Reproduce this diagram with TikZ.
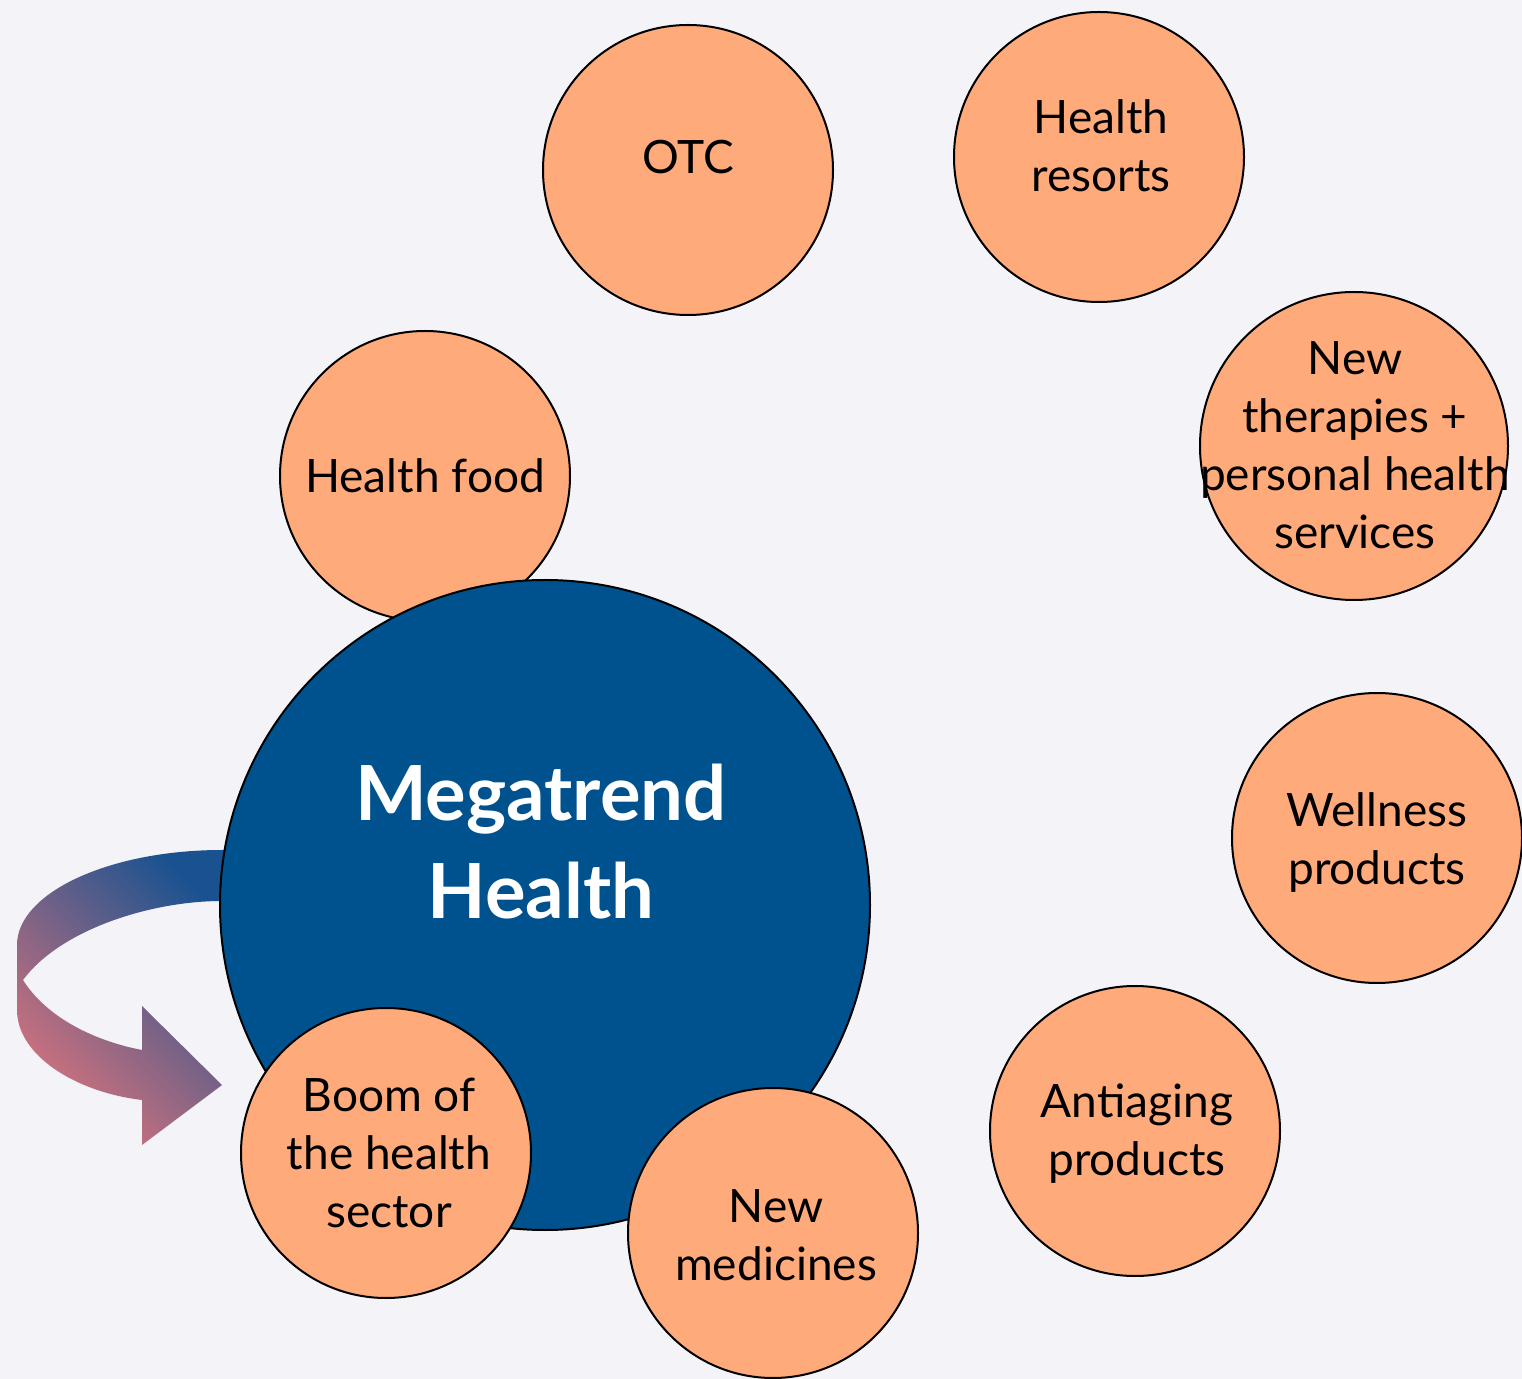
\documentclass[tikz,border=0pt]{standalone}
\usepackage{fontspec}
\setmainfont{Lato}
\definecolor{bgc}{HTML}{F3F3F8}
\definecolor{peach}{HTML}{FFAA7B}
\definecolor{megablue}{HTML}{00528F}
\definecolor{arrblue}{HTML}{1A5290}
\definecolor{arrpink}{HTML}{D8737C}
\tikzset{
  bubble/.style={circle, draw=black, line width=1pt, fill=peach, minimum size=145pt, inner sep=0pt},
  lbl/.style={align=center, font=\fontsize{23}{29}\selectfont, text=black, inner sep=0pt},
  mega/.style={circle, draw=black, line width=1pt, fill=megablue, minimum size=325pt, inner sep=0pt},
  megalbl/.style={align=center, font=\fontsize{38}{49}\selectfont\bfseries, text=white, inner sep=0pt}
}
\begin{document}
\begin{tikzpicture}[x=0.5pt,y=-0.5pt]
\useasboundingbox (0,0) rectangle (1522,1379);
\fill[bgc] (0,0) rectangle (1522,1379);
% Health food (under the big circle)
\node[bubble] (food) at (425,476) {};
\node[lbl] (foodt) at (425,476) {Health food};
% curved arrow
\shade[top color=arrblue, bottom color=arrpink, shading angle=-45]
  (232,850) -- (222,850) .. controls (109,850) and (17,893) .. (17,945)
  -- (17,1010) .. controls (17,1055) and (75,1092) .. (142,1100)
  -- (142,1145) -- (222,1085) -- (142,1006) -- (142,1050)
  .. controls (90,1040) and (45,1015) .. (23,980)
  .. controls (60,930) and (150,901) .. (222,901) -- (232,901) -- cycle;
% big circle
\node[mega] (mega) at (545,905) {};
\node[megalbl] (megat) at (541,842) {Megatrend\\Health};
% outer bubbles
\node[bubble] (otc) at (688,170) {};
\node[lbl] (otct) at (688,157) {OTC};
\node[bubble] (resorts) at (1099,157) {};
\node[lbl] (resortst) at (1101,146) {Health\\resorts};
\node[bubble, minimum size=154pt] (ther) at (1354,446) {};
\node[lbl] (thert) at (1355,445) {New\\therapies +\\personal health\\services};
\node[bubble] (well) at (1377,838) {};
\node[lbl] (wellt) at (1377,843) {Wellness\\products};
\node[bubble] (anti) at (1135,1131) {};
\node[lbl] (antit) at (1137,1134) {Antiaging\\products};
\node[bubble] (boom) at (386,1153) {};
\node[lbl] (boomt) at (389,1153) {Boom of\\the health\\sector};
\node[bubble] (med) at (773,1233) {};
\node[lbl] (medt) at (776,1235) {New\\medicines};
\end{tikzpicture}
\end{document}
